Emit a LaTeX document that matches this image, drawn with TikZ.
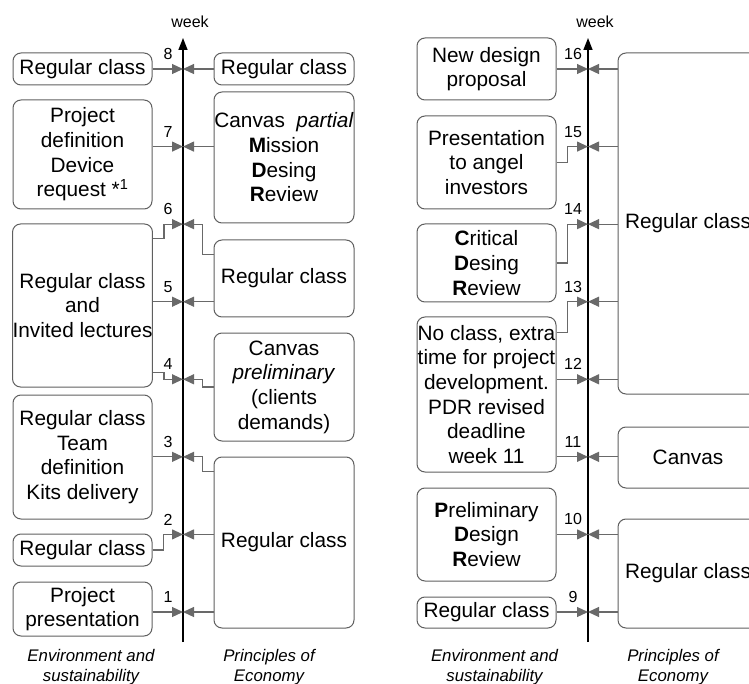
\documentclass[tikz,border=0pt]{standalone}
\usepackage{fontspec}
\setmainfont{Liberation Sans}
\usetikzlibrary{arrows.meta,calc}
\definecolor{boxgray}{RGB}{95,95,95}
\definecolor{conngray}{RGB}{105,105,105}
\newcommand\boxfont{\fontsize{20.8}{24.7}\selectfont}
\newcommand\wkfont{\fontsize{16}{18}\selectfont}
\newcommand\lblfont{\fontsize{16.8}{20}\selectfont\itshape}
\tikzset{
  box/.style={draw=boxgray, line width=1pt, rounded corners=8pt, inner sep=0pt, align=center, font=\boxfont},
  conn/.style={draw=conngray, line width=1.2pt, -{Triangle[length=11pt,width=10pt]}, color=conngray},
  axisline/.style={draw=black, line width=1.5pt, -{Triangle[length=12pt,width=9pt]}},
  wk/.style={font=\wkfont, inner sep=0pt},
  lbl/.style={font=\lblfont, align=center, inner sep=0pt}
}
\begin{document}
\begin{tikzpicture}[x=1pt,y=-1pt]
\useasboundingbox (0,0) rectangle (749,684);
\clip (0,0) rectangle (749,684);

% ---------- left panel: axis ----------
\coordinate (LA0) at (183,642);
\coordinate (LA1) at (183,38);
\draw[axisline] (LA0) -- (LA1);
\node[wk] (LW) at (190,22) {week};
\foreach \k in {1,...,8} {
  \coordinate (L\k) at (183,{612-(\k-1)*77.57});
  \node[wk] (nL\k) at (168,{612-(\k-1)*77.57-15}) {\k};
}

% left boxes
\node[box, minimum width=139pt, minimum height=32pt]  (A8)  at (82.5,69)    {Regular class};
\node[box, minimum width=139pt, minimum height=109pt] (A7)  at (82.5,154.5) {Project\\definition\\Device\\request *\textsuperscript{1}};
\node[box, minimum width=139pt, minimum height=163pt] (A65) at (82.5,305.5) {Regular class\\and\\Invited lectures};
\node[box, minimum width=139pt, minimum height=124pt] (A3)  at (82.5,457)   {Regular class\\Team\\definition\\Kits delivery};
\node[box, minimum width=139pt, minimum height=32pt]  (A2)  at (82.5,550)   {Regular class};
\node[box, minimum width=139pt, minimum height=54pt]  (A1)  at (82.5,609)   {Project\\presentation};

% right boxes
\node[box, minimum width=140pt, minimum height=32pt]  (B8)  at (284,69)    {Regular class};
\node[box, minimum width=140pt, minimum height=131pt] (B7)  at (284,157.5) {Canvas\ \ \textit{partial}\\\textbf{M}ission\\\textbf{D}esing\\\textbf{R}eview};
\node[box, minimum width=140pt, minimum height=77pt]  (B65) at (284,278.5) {Regular class};
\node[box, minimum width=140pt, minimum height=108pt] (B4)  at (284,387)   {Canvas\\\textit{preliminary}\\(clients\\demands)};
\node[box, minimum width=140pt, minimum height=171pt] (B31) at (284,542.5) {Regular class};

% connectors left side
\draw[conn] (A8.east |- L8) -- (L8);
\draw[conn] (A7.east |- L7) -- (L7);
\draw[conn] ($(A65.north east)+(0,15)$) -- ++(11,0) |- (L6);
\draw[conn] (A65.east |- L5) -- (L5);
\draw[conn] ($(A65.south east)+(0,-15)$) -- ++(11,0) |- (L4);
\draw[conn] (A3.east |- L3) -- (L3);
\draw[conn] (A2.east) -- ++(11,0) |- (L2);
\draw[conn] (A1.east |- L1) -- (L1);
% connectors right side
\draw[conn] (B8.west |- L8) -- (L8);
\draw[conn] (B7.west |- L7) -- (L7);
\draw[conn] ($(B65.north west)+(0,15)$) -- ++(-11,0) |- (L6);
\draw[conn] (B65.west |- L5) -- (L5);
\draw[conn] (B4.west) -- ++(-11,0) |- (L4);
\draw[conn] ($(B31.north west)+(0,15)$) -- ++(-11,0) |- (L3);
\draw[conn] (B31.west |- L2) -- (L2);
\draw[conn] (B31.west |- L1) -- (L1);

\node[lbl] (LE) at (91,667) {Environment and\\sustainability};
\node[lbl] (LP) at (269,667) {Principles of\\Economy};

% ---------- right panel: axis ----------
\coordinate (RA0) at (588,642);
\coordinate (RA1) at (588,38);
\draw[axisline] (RA0) -- (RA1);
\node[wk] (RW) at (595,22) {week};
\foreach \k in {9,...,16} {
  \coordinate (R\k) at (588,{612-(\k-9)*77.57});
  \node[wk] (nR\k) at (573,{612-(\k-9)*77.57-15}) {\k};
}

% left boxes
\node[box, minimum width=139pt, minimum height=62pt]  (C16)   at (486.5,69)    {New design\\proposal};
\node[box, minimum width=139pt, minimum height=93pt]  (C15)   at (486.5,162.5) {Presentation\\to angel\\investors};
\node[box, minimum width=139pt, minimum height=78pt]  (C14)   at (486.5,263)   {\textbf{C}ritical\\\textbf{D}esing\\\textbf{R}eview};
\node[box, minimum width=139pt, minimum height=155pt] (C1311) at (486.5,394.5) {No class, extra\\time for project\\development.\\PDR revised\\deadline\\week 11};
\node[box, minimum width=139pt, minimum height=93pt]  (C10)   at (486.5,534.5) {\textbf{P}reliminary\\\textbf{D}esign\\\textbf{R}eview};
\node[box, minimum width=139pt, minimum height=31pt]  (C9)    at (486.5,612.5) {Regular class};

% right boxes
\node[box, minimum width=140pt, minimum height=341pt] (D1612) at (688,223.5) {Regular class};
\node[box, minimum width=140pt, minimum height=61pt]  (D11)   at (688,457.5) {Canvas};
\node[box, minimum width=140pt, minimum height=109pt] (D109)  at (688,573.5) {Regular class};

% connectors left side
\draw[conn] (C16.east |- R16) -- (R16);
\draw[conn] (C15.east) -- ++(11,0) |- (R15);
\draw[conn] (C14.east) -- ++(11,0) |- (R14);
\draw[conn] ($(C1311.north east)+(0,16)$) -- ++(11,0) |- (R13);
\draw[conn] (C1311.east |- R12) -- (R12);
\draw[conn] (C1311.east |- R11) -- (R11);
\draw[conn] (C10.east |- R10) -- (R10);
\draw[conn] (C9.east |- R9) -- (R9);
% connectors right side
\foreach \k in {12,...,16} { \draw[conn] (D1612.west |- R\k) -- (R\k); }
\draw[conn] (D11.west |- R11) -- (R11);
\draw[conn] (D109.west |- R10) -- (R10);
\draw[conn] (D109.west |- R9) -- (R9);

\node[lbl] (RE) at (494.5,667) {Environment and\\sustainability};
\node[lbl] (RP) at (673,667) {Principles of\\Economy};
\end{tikzpicture}
\end{document}
